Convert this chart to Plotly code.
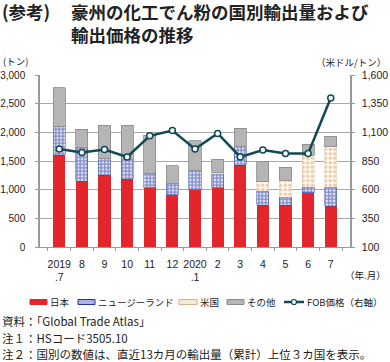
import plotly.graph_objects as go

months = ["2019<br>.7", "8", "9", "10", "11", "12", "2020<br>.1", "2", "3", "4", "5", "6", "7"]
japan = [1600, 1150, 1250, 1180, 1030, 910, 1000, 1030, 1430, 730, 730, 950, 710]
nz = [510, 570, 300, 350, 260, 200, 340, 250, 330, 240, 140, 90, 330]
usa = [0, 10, 0, 0, 0, 0, 0, 20, 0, 170, 290, 560, 710]
other = [670, 320, 570, 590, 660, 310, 510, 230, 310, 350, 230, 190, 180]
fob = [955, 925, 950, 885, 1070, 1115, 955, 1090, 885, 945, 915, 915, 1400]

left_ticks = [0, 500, 1000, 1500, 2000, 2500, 3000]
right_ticks = [100, 350, 600, 850, 1100, 1350, 1600]

W, H = 390, 362
ML, MR, MT, MB = 40, 40, 75, 115
PW, PH = W - ML - MR, H - MT - MB


def px(x):
    return (x - ML) / PW


def py(y):
    return (H - MB - y) / PH


JP_FONT = "Noto Sans CJK JP"
NUM_FONT = "Liberation Sans, Arial, Noto Sans CJK JP"

RED = "#e3262b"
BLUE = "#24349a"
TAN = "#d49a66"
GRAY = "#b5b5b5"
TEAL = "#114a55"

fig = go.Figure()
fig.add_trace(go.Bar(x=months, y=japan, name="日本", marker=dict(color=RED, line=dict(width=0))))
fig.add_trace(go.Bar(x=months, y=nz, name="ニュージーランド",
                     marker=dict(color="#dfe3f5", line=dict(width=0.5, color="#3444a0"),
                                 pattern=dict(shape="+", fgcolor=BLUE, bgcolor="#e4e7f6", size=3.5, solidity=0.65))))
fig.add_trace(go.Bar(x=months, y=usa, name="米国",
                     marker=dict(color="#fdf6ea", line=dict(width=0.4, color="#d8c0a0"),
                                 pattern=dict(shape=".", fgcolor=TAN, bgcolor="#fdf6ea", size=4.5, solidity=0.4))))
fig.add_trace(go.Bar(x=months, y=other, name="その他",
                     marker=dict(color=GRAY, line=dict(width=0.8, color="#8a8a8a"))))
fig.add_trace(go.Scatter(x=months, y=fob, name="FOB価格(右軸)", yaxis="y2", mode="lines+markers",
                         line=dict(color=TEAL, width=2.5),
                         marker=dict(size=6, color="white", line=dict(color=TEAL, width=1.5))))

fig.update_layout(
    width=W, height=H,
    margin=dict(l=ML, r=MR, t=MT, b=MB, autoexpand=False),
    paper_bgcolor="white", plot_bgcolor="white",
    barmode="stack", bargap=0.46,
    showlegend=False,
    font=dict(family=NUM_FONT, size=10.5, color="#222"),
    xaxis=dict(type="category", tickson="boundaries", ticks="outside", ticklen=3,
               tickcolor="#999", showline=True, linecolor="#999", linewidth=1,
               showgrid=False, tickangle=0, automargin=False, ticklabelstandoff=7,
               tickfont=dict(size=10.5, family=NUM_FONT, color="#222")),
    yaxis=dict(range=[0, 3000], tickvals=left_ticks, tickformat=",", showline=True,
               linecolor="#999", linewidth=1.5, gridcolor="#a8a8a8", gridwidth=1,
               ticks="outside", ticklen=3, tickcolor="#999", ticklabelstandoff=8,
               zeroline=False, automargin=False,
               tickfont=dict(size=10, family=NUM_FONT, color="#222")),
    yaxis2=dict(range=[100, 1600], tickvals=right_ticks, tickformat=",", overlaying="y", side="right",
                showline=True, linecolor="#999", linewidth=1.5, showgrid=False,
                ticks="outside", ticklen=3, tickcolor="#999", ticklabelstandoff=5,
                zeroline=False, automargin=False,
                tickfont=dict(size=10.5, family=NUM_FONT, color="#222")),
)

ann = []
# title
ann.append(dict(x=px(0), y=py(11), text="<b>(参考)</b>", xanchor="left", yanchor="middle",
                font=dict(family=JP_FONT, size=17.5, color="#222")))
ann.append(dict(x=px(69), y=py(11), text="<b>豪州の化工でん粉の国別輸出量および</b>", xanchor="left", yanchor="middle",
                font=dict(family=JP_FONT, size=17.5, color="#222")))
ann.append(dict(x=px(69), y=py(34), text="<b>輸出価格の推移</b>", xanchor="left", yanchor="middle",
                font=dict(family=JP_FONT, size=17.5, color="#222")))
# axis units
ann.append(dict(x=px(1), y=py(61), text="(トン)", xanchor="left", yanchor="middle",
                font=dict(family=JP_FONT, size=9.5, color="#222")))
ann.append(dict(x=px(388), y=py(62), text="（米ドル/トン）", xanchor="right", yanchor="middle",
                font=dict(family=JP_FONT, size=9.5, color="#222")))
ann.append(dict(x=px(388), y=py(275), text="（年.月）", xanchor="right", yanchor="middle",
                font=dict(family=JP_FONT, size=9.5, color="#222")))
# footnotes
notes = ["資料：「Global Trade Atlas」", "注１：HSコード3505.10",
         "注２：国別の数値は、直近13カ月の輸出量（累計）上位３カ国を表示。"]
for i, t in enumerate(notes):
    ann.append(dict(x=px(0), y=py(321 + 16.5 * i), text=t, xanchor="left", yanchor="middle",
                    font=dict(family=JP_FONT, size=11.5, color="#222")))

# manual legend
LY = 302
shapes = []
leg = [
    (30, 47, RED, RED, "日本"),
    (78, 95, "#a9b2e2", "#24349a", "ニュージーランド"),
    (179, 197, "#f8ead4", "#d2b48c", "米国"),
    (227, 244, GRAY, "#8a8a8a", "その他"),
]
for x0, x1, fc, lc, t in leg:
    shapes.append(dict(type="rect", xref="paper", yref="paper", x0=px(x0), x1=px(x1),
                       y0=py(LY + 2.5), y1=py(LY - 2.5), fillcolor=fc, line=dict(color=lc, width=1)))
    ann.append(dict(x=px(x1 + 1), y=py(LY), text=t, xanchor="left", yanchor="middle",
                    font=dict(family=JP_FONT, size=9.5, color="#222")))
shapes.append(dict(type="line", xref="paper", yref="paper", x0=px(284), x1=px(304), y0=py(LY), y1=py(LY),
                   line=dict(color=TEAL, width=2.5)))
shapes.append(dict(type="circle", xref="paper", yref="paper", x0=px(291.5), x1=px(296.5),
                   y0=py(LY + 2.5), y1=py(LY - 2.5), fillcolor="white", line=dict(color=TEAL, width=1.2)))
ann.append(dict(x=px(305), y=py(LY), text="FOB価格（右軸）", xanchor="left", yanchor="middle",
                font=dict(family=JP_FONT, size=9.5, color="#222")))

for a in ann:
    a.update(xref="paper", yref="paper", showarrow=False)
fig.update_layout(annotations=ann, shapes=shapes)

fig.write_html("out.html", config={"displayModeBar": False},
               post_script="document.body.style.margin='0';document.body.style.padding='0';")
